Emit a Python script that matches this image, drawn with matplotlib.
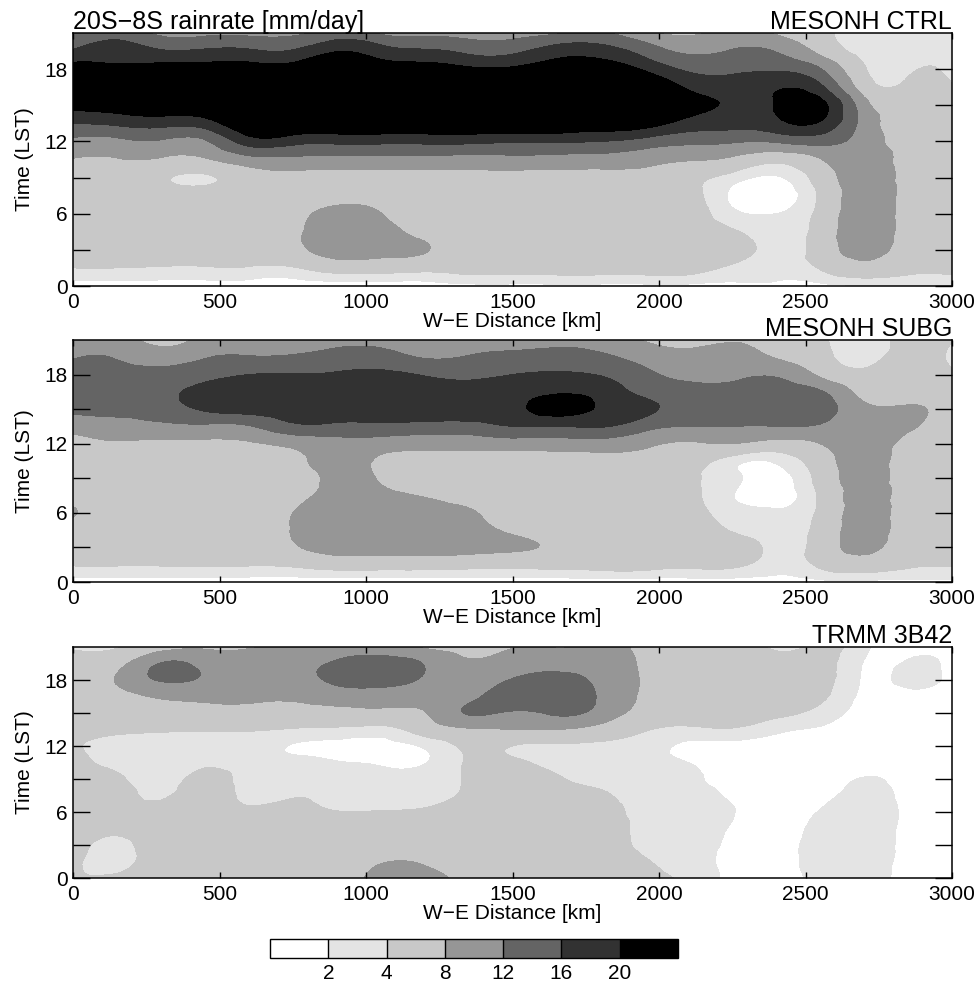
import numpy as np
import matplotlib
matplotlib.use("Agg")
import matplotlib.pyplot as plt
import matplotlib.tri as mtri

plt.rcParams['font.family'] = ['Liberation Sans', 'DejaVu Sans']

# Grid: W-E distance (km) and local solar time (h)
distance_km = [0, 150, 300, 450, 600, 750, 900, 1050, 1200, 1350, 1500,
               1650, 1800, 1950, 2100, 2250, 2400, 2550, 2700, 2850, 3000]
time_lst = [0, 1.5, 3, 4.5, 6, 7.5, 9, 10.5, 12, 13.5, 15, 16.5, 18, 19.5, 21]

# Rain rate [mm/day]; one list per distance column, values from 0 LST to 21 LST
ctrl_rain = [
    [1, 4, 5, 5.5, 5.5, 5.5, 6, 7.8, 11, 16, 22, 28, 23, 16.4, 11.5],
    [1, 4, 5.5, 5.5, 5.5, 5.5, 6, 7.8, 11, 16.8, 23, 28, 22, 18, 14.8],
    [1, 3.8, 5.5, 5.5, 5.5, 5.5, 4.6, 7.6, 11.5, 17.5, 24, 28, 22.5, 16.4, 10.9],
    [1, 3.8, 5.5, 5.5, 5.5, 5.5, 3.6, 7.6, 11.5, 18, 24.5, 28, 22.5, 16.6, 11],
    [1, 3.8, 5.5, 5.5, 5.5, 5.5, 5.8, 10.5, 18, 24, 28, 28, 22.5, 16.6, 11],
    [1, 3.8, 6.8, 7.2, 6.5, 5.5, 6.5, 11, 17.5, 24, 28, 28, 22.5, 16.4, 11],
    [1, 5.5, 9.8, 10, 9.5, 6, 6.3, 10.8, 17, 24, 28, 28, 25, 19.8, 14],
    [1, 5.5, 9.3, 9.3, 8.1, 6, 6.3, 10.8, 17, 24, 28, 28, 23, 17.8, 11.5],
    [1, 5, 8.3, 7, 6, 5.5, 6.3, 10.8, 17, 24, 28, 28, 22.5, 16.6, 11],
    [1.5, 5, 5.5, 5.5, 5.5, 5.5, 6.5, 10.5, 17, 24, 28, 28, 21, 15.2, 10],
    [1.5, 5, 5.5, 5.5, 5.5, 5.5, 6.5, 10.8, 16.5, 24, 28, 28, 21, 15.2, 10.2],
    [1.5, 5, 5.5, 5.5, 5.5, 5.5, 6.5, 10.5, 16.5, 24, 28, 28, 23, 18, 11.5],
    [1.5, 5, 5.5, 5.5, 5.5, 5.5, 6.5, 10.3, 16, 23, 28, 28, 23, 18, 12.5],
    [1.5, 5, 5.5, 5.5, 5.5, 5.5, 6.5, 9.5, 14.5, 22, 26, 25, 19.5, 14.5, 9],
    [1.5, 5, 5.5, 5.5, 5.5, 5, 5, 8.3, 13, 18.5, 21.5, 19.5, 15.3, 11.3, 7.3],
    [1.5, 3.6, 5, 4.3, 2.5, 1.6, 3.0, 7.2, 12.5, 17.5, 19.5, 18.5, 15, 12.3, 9.5],
    [1.5, 3, 3.2, 2.8, 2.0, 1.0, 1.8, 5, 12.5, 18.8, 20.3, 19.5, 15.5, 11.8, 7.5],
    [1.5, 4.2, 5.5, 5.5, 5, 4.5, 5.5, 7.8, 13.5, 19.5, 21.5, 17, 12.3, 7, 5],
    [1.8, 6.5, 9.5, 10, 10, 10, 10, 10, 10, 10.5, 9.5, 6, 4.3, 3, 2.5],
    [2, 5, 6, 6.5, 6.5, 6.5, 6.5, 6.5, 6.5, 6.5, 6.5, 5, 3.5, 3, 3],
    [2, 4.8, 5.5, 5.5, 5.5, 5.5, 5.5, 5.5, 5.5, 5.5, 5.5, 4.2, 3.3, 3, 3],
]

subg_rain = [
    [1, 4.2, 5.5, 6, 8.4, 5.8, 5.5, 5.5, 6.5, 9.5, 12.8, 14.5, 14, 11.7, 10],
    [1, 4.2, 5.5, 5.5, 5.5, 5.5, 5.5, 5.8, 7.5, 10.5, 13.2, 15, 14, 11.7, 10],
    [1, 4.2, 5.5, 5.5, 5.5, 5.5, 5.5, 5.8, 7.2, 11, 14, 15, 13.5, 10, 6.5],
    [1, 4.2, 5.5, 5.5, 5.5, 5.5, 5.5, 5.8, 7.3, 11.2, 16.5, 17.5, 14.5, 11.8, 9.5],
    [1, 4.2, 5.5, 5.5, 5.5, 5.5, 5.5, 6, 7.6, 11.7, 17.5, 18.5, 16, 12.3, 9.5],
    [1, 4.5, 7.5, 8.2, 8, 6.5, 6.2, 7, 9, 15, 18, 18.5, 16.2, 12.5, 10],
    [1, 5.5, 9.5, 10, 10, 9.5, 8.8, 9.2, 10.5, 15, 18, 18.5, 16.5, 13.5, 11],
    [1, 5.5, 9.5, 10, 10, 9, 7.7, 7.5, 10, 15, 18.5, 19, 17, 13.5, 11],
    [1, 5.5, 9.5, 9.8, 9.3, 7.8, 6, 6.5, 9.5, 14.5, 18.5, 18.5, 15.7, 11.8, 10],
    [1, 5.2, 9.2, 9.3, 8.5, 6.5, 5.8, 6.5, 9.5, 14.5, 18.5, 18, 15, 12.3, 10],
    [1, 5, 8.5, 7.5, 6, 5.5, 5.5, 6.2, 10, 16, 19, 19, 16, 13, 10.5],
    [1, 5, 7.3, 6.5, 5.5, 5.5, 5.5, 6.2, 10, 16, 21.5, 19.5, 16.5, 13.5, 11],
    [1, 5, 5.5, 5.5, 5.5, 5.5, 5.5, 6.5, 10.3, 16.3, 19.5, 18.5, 15.8, 12.8, 10.5],
    [1, 5, 5.5, 5.5, 5.5, 5.5, 5.5, 6.5, 9, 13.5, 17, 15, 13, 10.5, 7.8],
    [1, 4.5, 5.2, 5.2, 5, 4.7, 4.5, 5.5, 7.5, 12, 14.5, 13.5, 11, 9, 7],
    [1, 4.5, 5, 3.9, 3, 2.1, 2.5, 2.8, 8, 12, 14.5, 13.5, 11, 9.5, 7.8],
    [1.2, 3, 3.4, 3.0, 2.3, 1.2, 1.3, 2.3, 6.5, 12, 14.5, 14, 11.5, 7.8, 6],
    [1.5, 4.5, 5.5, 5.2, 4.7, 4.5, 5.2, 6, 8, 11.5, 14, 12.5, 7.3, 5, 4.3],
    [1.5, 6, 9, 9.5, 9.5, 9.5, 9.5, 9.5, 9.5, 9.5, 9, 6.5, 4.6, 3.3, 3],
    [1.5, 4.5, 5.5, 6, 6, 6, 6, 6.2, 7, 8.5, 8.6, 6, 5.5, 5, 5],
    [1.5, 4.3, 5.5, 5.5, 5.5, 5.5, 5.5, 5.5, 5.5, 5.5, 5.5, 5.5, 4.5, 3.5, 4.2],
]

trmm_rain = [
    [4.4, 5, 5.5, 5.5, 5.5, 5.5, 5.5, 5, 4.3, 5, 5.5, 6, 6.5, 5.5, 3.5],
    [4.6, 3, 3.3, 4.6, 5.5, 5.5, 4.5, 3.3, 3.2, 4.5, 5.5, 6.5, 8.3, 6.5, 3.8],
    [5, 5.5, 5.5, 5.5, 5, 3.6, 3.0, 3.0, 3.0, 4.3, 6, 8.5, 12.3, 12.2, 6],
    [5, 5.5, 5.5, 5.5, 5.5, 5.5, 4.8, 3.6, 3.0, 4.2, 6.5, 9, 11.5, 11, 7.5],
    [5, 5.5, 5.5, 5.5, 4.6, 3.3, 3, 3, 3, 4.2, 6.5, 9, 10.5, 11, 7.5],
    [5, 5.5, 5.5, 5.5, 4.8, 3.8, 2.8, 2.4, 1.9, 3.8, 6.5, 8.6, 10.5, 11, 8.5],
    [5, 5.5, 5.5, 5.5, 4.1, 3.3, 2.8, 2.1, 1.6, 3.5, 6.8, 9.8, 12.8, 12.5, 9.5],
    [9.5, 7.7, 5.5, 5, 4.1, 3.3, 2.8, 1.8, 1.5, 3.2, 7, 10, 13.5, 13.5, 10.5],
    [9.5, 7.5, 5.5, 5, 4.3, 3.3, 2.8, 1.9, 2.3, 5.5, 7.8, 10, 11.5, 11.8, 7.5],
    [7, 6, 5.5, 5.5, 5.2, 4.5, 4.3, 4.3, 4.5, 7.5, 12.3, 11, 10, 8.5, 7],
    [6, 5.5, 5.5, 5.5, 5.5, 5.5, 5, 4.5, 4, 8, 11.5, 14.5, 12.3, 10, 7.8],
    [5, 5.5, 5.5, 5.5, 5.5, 5, 4.2, 3.4, 3.6, 8, 12.6, 15, 13.5, 10.5, 7.8],
    [5, 5.5, 5.5, 5.5, 5.2, 4.4, 3.5, 3.2, 3.5, 6.5, 10.5, 11.5, 11, 10, 9],
    [4.5, 4.2, 3.5, 3.3, 3.2, 3.0, 3.0, 2.8, 3.0, 4.3, 6.5, 7.5, 7.7, 7.5, 7],
    [3.5, 3, 3, 3, 3, 2.8, 2.4, 2.0, 1.6, 3.5, 5.5, 6.5, 6.5, 6.2, 5.8],
    [1.5, 1.4, 1.5, 1.8, 2.1, 1.7, 1.3, 1.2, 1.4, 3.8, 5.2, 6, 6.2, 6, 5.5],
    [1.3, 1.2, 1.2, 1.3, 1.3, 1.2, 1.1, 1.1, 1.3, 2.5, 4.6, 5.5, 5.5, 4.8, 3.6],
    [2.5, 2.8, 2.8, 2.5, 2.1, 1.5, 1.2, 1.2, 1.3, 1.8, 3.2, 4.6, 5.2, 5, 4.6],
    [2.8, 3, 3, 3, 2.8, 2.5, 2.1, 1.3, 1.2, 1.2, 1.3, 1.5, 1.8, 1.9, 2.5],
    [1.5, 1.5, 1.6, 1.6, 1.7, 1.6, 1.4, 1.2, 1.2, 1.2, 1.2, 1.3, 2.6, 2.3, 1.2],
    [1.2, 1.2, 1.2, 1.2, 1.2, 1.2, 1.2, 1.2, 1.2, 1.2, 1.2, 1.2, 1.2, 1.2, 1.2],
]

rain_levels = [-50, 2, 4, 8, 12, 16, 20, 60]
cbar_ticks = [2, 4, 8, 12, 16, 20]
gray_shades = ['#ffffff', '#e4e4e4', '#c8c8c8', '#969696', '#646464', '#323232', '#000000']

panel_names = ['MESONH CTRL', 'MESONH SUBG', 'TRMM 3B42']
panel_fields = [ctrl_rain, subg_rain, trmm_rain]

# Triangulated grid in index space (so both axes weigh equally in the
# cubic smoothing), mapped back to km / hours for drawing.
nx, ny = len(distance_km), len(time_lst)
ix, iy = np.meshgrid(np.arange(nx), np.arange(ny))
cells = []
for j in range(ny - 1):
    for i in range(nx - 1):
        a = j * nx + i
        cells.append([a, a + 1, a + nx + 1])
        cells.append([a, a + nx + 1, a + nx])
index_tri = mtri.Triangulation(ix.ravel().astype(float), iy.ravel().astype(float), cells)
refiner = mtri.UniformTriRefiner(index_tri)

W, H = 977, 982
fig = plt.figure(figsize=(W / 100, H / 100), dpi=100)


def pixel_axes(left, top, right, bottom):
    return fig.add_axes([left / W, 1 - bottom / H, (right - left) / W, (bottom - top) / H])


panel_boxes = [(73, 33, 952, 286), (73, 340, 952, 582), (73, 647, 952, 878)]

cf = None
for i, (box, name, field) in enumerate(zip(panel_boxes, panel_names, panel_fields)):
    ax = pixel_axes(*box)
    z = np.array(field, dtype=float).T.ravel()
    interp = mtri.CubicTriInterpolator(index_tri, z, kind='min_E')
    fine_tri, fine_z = refiner.refine_field(z, triinterpolator=interp, subdiv=3)
    draw_tri = mtri.Triangulation(np.interp(fine_tri.x, np.arange(nx), distance_km),
                                  np.interp(fine_tri.y, np.arange(ny), time_lst),
                                  fine_tri.triangles)
    cf = ax.tricontourf(draw_tri, fine_z, levels=rain_levels, colors=gray_shades)
    ax.set_xlim(0, 3000)
    ax.set_ylim(0, 21)
    ax.set_xticks([0, 500, 1000, 1500, 2000, 2500, 3000])
    ax.set_yticks([0, 6, 12, 18])
    ax.set_yticks([3, 9, 15], minor=True)
    ax.tick_params(axis='y', which='both', direction='in', length=12.5, width=1.0,
                   left=True, right=True, labelsize=15, pad=4)
    ax.tick_params(axis='x', which='major', direction='in', length=4.5, width=1.0,
                   top=True, bottom=True, labelsize=15, pad=5)
    for sp in ax.spines.values():
        sp.set_linewidth(1.1)
    ax.set_xlabel('W\u2212E Distance [km]', fontsize=15, labelpad=0)
    ax.set_ylabel('Time (LST)', fontsize=15, labelpad=7)
    ax.set_title(name, loc='right', fontsize=18, pad=3)
    if i == 0:
        ax.set_title('20S\u22128S rainrate [mm/day]', loc='left', fontsize=18, pad=3)

cax = pixel_axes(270, 939, 678, 958)
cb = fig.colorbar(cf, cax=cax, orientation='horizontal', ticks=cbar_ticks,
                  drawedges=True)
cb.outline.set_linewidth(1.0)
cb.dividers.set_linewidth(1.0)
cax.tick_params(length=0, labelsize=15, pad=4)
cax.set_xticklabels([str(t) for t in cbar_ticks])

fig.savefig('out.png', dpi=100)
